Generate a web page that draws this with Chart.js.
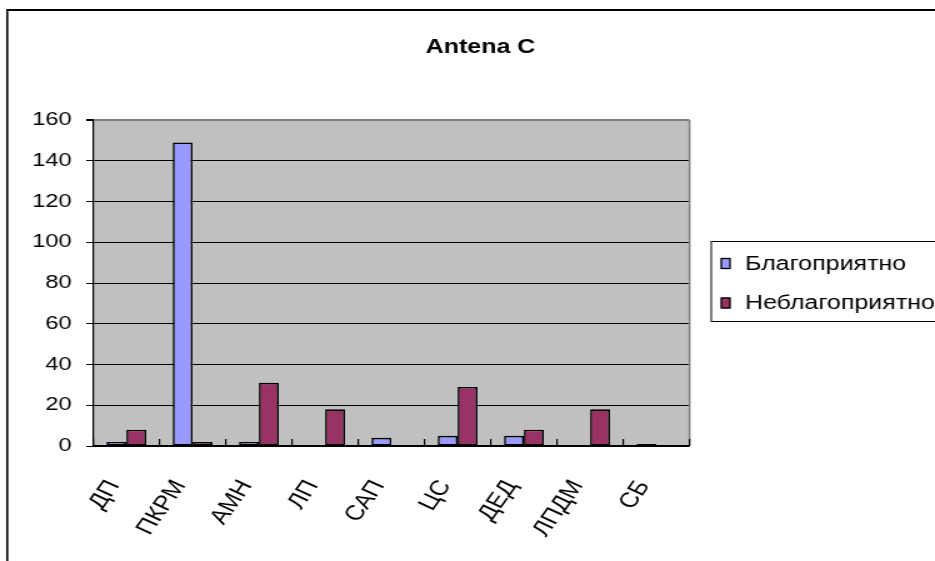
<!DOCTYPE html>
<html>
<head>
<meta charset="utf-8">
<title>Antena C</title>
<script src="https://cdn.jsdelivr.net/npm/chart.js@4.4.0/dist/chart.umd.min.js"></script>
<style>
html, body { margin: 0; padding: 0; background: #fff; overflow: hidden; }
#chart { display: block; }
</style>
</head>
<body>
<!-- drawn at 748 wide and stretched to 935, like the old sheet export -->
<canvas id="chart" width="748" height="561" style="width:935px;height:561px"></canvas>
<script>
var chartTitle = 'Antena C';
var categories = ['ДП', 'ПКРМ', 'АМН', 'ЛП', 'САП', 'ЦС', 'ДЕД', 'ЛПДМ', 'СБ'];
var seriesNames = ['Благоприятно', 'Неблагоприятно'];
var favourable = [2, 149, 2, 0, 4, 5, 5, 0, 1];
var unfavourable = [8, 2, 31, 18, 0, 29, 8, 18, 0];
var yTicks = [0, 20, 40, 60, 80, 100, 120, 140, 160];

var FONT = "'Liberation Sans', Arial, sans-serif";

// frame, grey plot area, inner category ticks, title and boxed legend
var sheet = {
    id: 'sheet',
    beforeDraw: function(chart) {
        var ctx = chart.ctx, a = chart.chartArea;
        ctx.save();
        ctx.fillStyle = '#000';
        ctx.fillRect(5, 9, 800, 2);
        ctx.fillRect(5, 9, 1.6, 600);
        ctx.fillStyle = '#c0c0c0';
        ctx.fillRect(a.left, a.top, a.right - a.left, a.bottom - a.top);
        ctx.restore();
    },
    afterDraw: function(chart) {
        var ctx = chart.ctx, a = chart.chartArea, x = chart.scales.x;
        ctx.save();
        // right edge of plot area
        ctx.fillStyle = '#808080';
        ctx.fillRect(a.right - 0.8, a.top, 1.6, a.bottom - a.top - 1);

        // tick marks between categories, pointing up into the plot
        ctx.fillStyle = '#000';
        for (var i = 0; i <= categories.length; i++) {
            var px = x.getPixelForValue(i - 0.5);
            ctx.fillRect(px - 0.6, a.bottom - 7, 1.2, 7);
        }

        // title
        ctx.font = 'bold 20px ' + FONT;
        ctx.textAlign = 'center';
        ctx.textBaseline = 'alphabetic';
        ctx.fillText(chartTitle, 384.4, 53);

        // legend
        ctx.fillStyle = '#fff';
        ctx.fillRect(569, 241.5, 200, 80);
        ctx.strokeStyle = '#000';
        ctx.lineWidth = 1;
        ctx.strokeRect(569, 241.5, 200, 80);
        ctx.font = '20px ' + FONT;
        ctx.textAlign = 'left';
        chart.data.datasets.forEach(function(ds, i) {
            var y = 258 + i * 39.5;
            ctx.fillStyle = ds.backgroundColor;
            ctx.fillRect(577, y, 7, 11);
            ctx.lineWidth = 1.3;
            ctx.strokeRect(577, y + 0.5, 7, 10);
            ctx.fillStyle = '#000';
            ctx.fillText(ds.label, 596, y + 11.5);
        });
        ctx.restore();
    }
};

new Chart(document.getElementById('chart'), {
    type: 'bar',
    data: {
        labels: categories,
        datasets: [{
            label: seriesNames[0],
            data: favourable,
            backgroundColor: '#9999ff',
            borderColor: '#000',
            borderWidth: 1.6,
            borderSkipped: false
        }, {
            label: seriesNames[1],
            data: unfavourable,
            backgroundColor: '#993366',
            borderColor: '#000',
            borderWidth: 1.6,
            borderSkipped: false
        }]
    },
    options: {
        responsive: false,
        animation: false,
        devicePixelRatio: 1,
        layout: { padding: { left: 0, top: 120, right: 196.4, bottom: 0 } },
        datasets: { bar: { categoryPercentage: 0.6, barPercentage: 1 } },
        plugins: {
            legend: { display: false },
            title: { display: false },
            tooltip: { enabled: false }
        },
        scales: {
            x: {
                grid: { drawOnChartArea: false, drawTicks: false, offset: true },
                border: { color: '#000', width: 1.2 },
                ticks: {
                    autoSkip: false,
                    minRotation: 60,
                    maxRotation: 60,
                    padding: 30,
                    labelOffset: -10,
                    color: '#000',
                    font: { family: FONT, size: 21 }
                },
                afterFit: function(s) {
                    s.height = 115;
                    s.paddingLeft = 0;
                    s.paddingRight = 0;
                }
            },
            y: {
                min: yTicks[0],
                max: yTicks[yTicks.length - 1],
                ticks: {
                    stepSize: yTicks[1] - yTicks[0],
                    padding: 11.6,
                    color: '#000',
                    font: { family: FONT, size: 19 }
                },
                grid: {
                    color: function(c) { return c.tick && c.tick.value === yTicks[yTicks.length - 1] ? '#808080' : '#000'; },
                    lineWidth: function(c) { return c.tick && c.tick.value === yTicks[yTicks.length - 1] ? 2 : 1; },
                    tickColor: '#000',
                    tickLength: 5.6
                },
                border: { color: '#000', width: 1.2 },
                afterFit: function(s) {
                    s.width = 74.6;
                    s.paddingTop = 0;
                    s.paddingBottom = 0;
                }
            }
        }
    },
    plugins: [sheet]
});
</script>
</body>
</html>
